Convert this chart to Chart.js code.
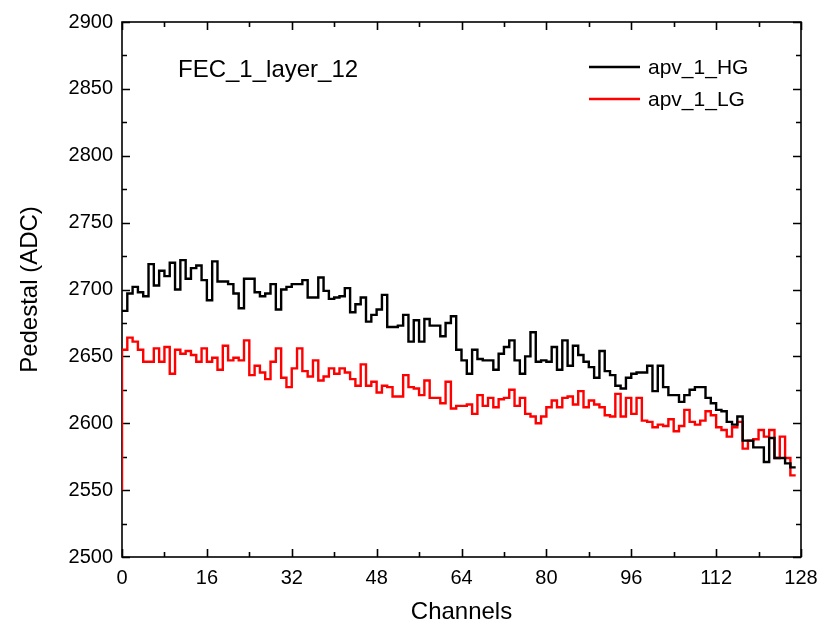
<!DOCTYPE html>
<html>
<head>
<meta charset="utf-8">
<script src="https://cdn.jsdelivr.net/npm/chart.js@4/dist/chart.umd.min.js"></script>
<style>
  html, body { margin: 0; padding: 0; background: #fff; }
  #wrap { width: 827px; height: 630px; }
</style>
</head>
<body>
<div id="wrap"><canvas id="pedestalChart" width="827" height="630"></canvas></div>
<script>
// apv_1 pedestal per channel (FEC_1_layer_12)
// index 0 is the starting point, each value is held over the channel before it
const hgPedestal = [2684,
    2684, 2697, 2702, 2698, 2695, 2719, 2703, 2714, 2710, 2720,
    2700, 2722, 2708, 2716, 2718, 2707, 2692, 2721, 2706, 2706,
    2704, 2697, 2686, 2708, 2708, 2698, 2695, 2697, 2704, 2685,
    2700, 2702, 2704, 2704, 2707, 2694, 2694, 2709, 2699, 2693,
    2694, 2695, 2701, 2683, 2689, 2694, 2676, 2681, 2685, 2696,
    2672, 2672, 2673, 2681, 2661, 2677, 2661, 2678, 2673, 2673,
    2665, 2675, 2680, 2655, 2647, 2637, 2655, 2648, 2647, 2647,
    2640, 2652, 2657, 2662, 2647, 2637, 2650, 2668, 2646, 2647,
    2646, 2657, 2640, 2662, 2643, 2658, 2651, 2646, 2642, 2634,
    2654, 2639, 2636, 2628, 2626, 2634, 2637, 2638, 2638, 2643,
    2624, 2643, 2627, 2621, 2621, 2616, 2621, 2625, 2627, 2627,
    2619, 2615, 2610, 2609, 2601, 2599, 2605, 2587, 2587, 2582,
    2582, 2571, 2589, 2574, 2574, 2570, 2567];

const lgPedestal = [2550,
    2655, 2664, 2661, 2655, 2646, 2646, 2656, 2646, 2657, 2637,
    2655, 2652, 2654, 2651, 2646, 2656, 2646, 2649, 2640, 2658,
    2647, 2649, 2647, 2662, 2636, 2643, 2638, 2633, 2646, 2656,
    2634, 2627, 2641, 2656, 2639, 2635, 2647, 2632, 2635, 2641,
    2637, 2641, 2638, 2633, 2628, 2644, 2628, 2631, 2623, 2628,
    2627, 2620, 2620, 2636, 2627, 2626, 2621, 2632, 2619, 2619,
    2615, 2631, 2611, 2613, 2613, 2614, 2607, 2621, 2613, 2619,
    2612, 2618, 2619, 2625, 2613, 2619, 2607, 2605, 2600, 2605,
    2612, 2617, 2612, 2619, 2620, 2614, 2624, 2612, 2617, 2614,
    2612, 2606, 2605, 2622, 2605, 2619, 2607, 2619, 2602, 2601,
    2597, 2599, 2598, 2603, 2594, 2598, 2610, 2601, 2599, 2602,
    2609, 2606, 2597, 2595, 2590, 2597, 2601, 2581, 2587, 2588,
    2595, 2590, 2595, 2574, 2590, 2574, 2561];

const channelTicks = [0, 16, 32, 48, 64, 80, 96, 112, 128];
const pedestalTicks = [2500, 2550, 2600, 2650, 2700, 2750, 2800, 2850, 2900];
const seriesNames = ['apv_1_HG', 'apv_1_LG'];
const plotLabel = 'FEC_1_layer_12';

const FONT = "'Liberation Sans', Arial, sans-serif";

function toPoints(values) {
    return values.map((v, ch) => ({x: ch, y: v}));
}

// 사이 눈금 (minor ticks)
function midTicks(arr) {
    return arr.slice(1).map((v, i) => (v + arr[i]) / 2);
}

// 테두리, 안쪽 눈금, 라벨, 범례
const framePlugin = {
    id: 'framePlugin',
    beforeDatasetsDraw(chart) {
        const {ctx, chartArea: a, scales: {x, y}} = chart;
        ctx.save();
        ctx.strokeStyle = '#000';
        ctx.lineWidth = 1.6;
        ctx.strokeRect(a.left, a.top, a.right - a.left, a.bottom - a.top);

        ctx.beginPath();
        const xTick = (v, len) => {
            const px = Math.round(x.getPixelForValue(v)) + 0.5;
            ctx.moveTo(px, a.bottom); ctx.lineTo(px, a.bottom - len);
            ctx.moveTo(px, a.top); ctx.lineTo(px, a.top + len);
        };
        const yTick = (v, len) => {
            const py = Math.round(y.getPixelForValue(v)) + 0.5;
            ctx.moveTo(a.left, py); ctx.lineTo(a.left + len, py);
            ctx.moveTo(a.right, py); ctx.lineTo(a.right - len, py);
        };
        channelTicks.forEach(v => xTick(v, 8));
        midTicks(channelTicks).forEach(v => xTick(v, 5));
        pedestalTicks.forEach(v => yTick(v, 8));
        midTicks(pedestalTicks).forEach(v => yTick(v, 5));
        ctx.stroke();
        ctx.restore();
    },
    afterDraw(chart) {
        const {ctx, chartArea: a} = chart;
        ctx.save();
        ctx.fillStyle = '#000';
        ctx.textBaseline = 'middle';
        ctx.font = '24px ' + FONT;
        ctx.fillText(plotLabel, a.left + 56, a.top + 48);

        ctx.font = '21px ' + FONT;
        chart.data.datasets.forEach((ds, i) => {
            const ly = a.top + 45 + i * 32;
            ctx.strokeStyle = ds.borderColor;
            ctx.lineWidth = 2.6;
            ctx.beginPath();
            ctx.moveTo(a.right - 212, ly);
            ctx.lineTo(a.right - 161, ly);
            ctx.stroke();
            ctx.fillText(ds.label, a.right - 153, ly + 1);
        });
        ctx.restore();
    }
};

const ctx = document.getElementById('pedestalChart').getContext('2d');
new Chart(ctx, {
    type: 'line',
    data: {
        datasets: [{
            label: seriesNames[0],
            data: toPoints(hgPedestal),
            borderColor: '#000000',
            borderWidth: 2.4,
            stepped: 'after',
            pointRadius: 0,
            fill: false
        }, {
            label: seriesNames[1],
            data: toPoints(lgPedestal),
            borderColor: '#ff0000',
            borderWidth: 2.4,
            stepped: 'after',
            pointRadius: 0,
            fill: false
        }]
    },
    options: {
        responsive: false,
        animation: false,
        layout: {padding: {top: 22, right: 26, left: 0, bottom: 0}},
        plugins: {
            legend: {display: false},
            tooltip: {enabled: false}
        },
        scales: {
            x: {
                type: 'linear',
                min: 0,
                max: 128,
                afterBuildTicks: s => { s.ticks = channelTicks.map(v => ({value: v})); },
                afterFit: s => { s.height = 73; },
                grid: {display: false, drawTicks: false},
                border: {display: false},
                ticks: {
                    color: '#000',
                    font: {family: FONT, size: 20},
                    padding: 9,
                    maxRotation: 0,
                    autoSkip: false,
                    callback: v => String(v)
                },
                title: {
                    display: true,
                    text: 'Channels',
                    color: '#000',
                    font: {family: FONT, size: 24},
                    padding: {top: 0, bottom: 3}
                }
            },
            y: {
                type: 'linear',
                min: 2500,
                max: 2900,
                afterBuildTicks: s => { s.ticks = pedestalTicks.map(v => ({value: v})); },
                afterFit: s => { s.width = 122; },
                grid: {display: false, drawTicks: false},
                border: {display: false},
                ticks: {
                    color: '#000',
                    font: {family: FONT, size: 20},
                    padding: 9,
                    callback: v => String(v)
                },
                title: {
                    display: true,
                    text: 'Pedestal (ADC)',
                    color: '#000',
                    font: {family: FONT, size: 24},
                    padding: {top: 16, bottom: 0}
                }
            }
        }
    },
    plugins: [framePlugin]
});
</script>
</body>
</html>
